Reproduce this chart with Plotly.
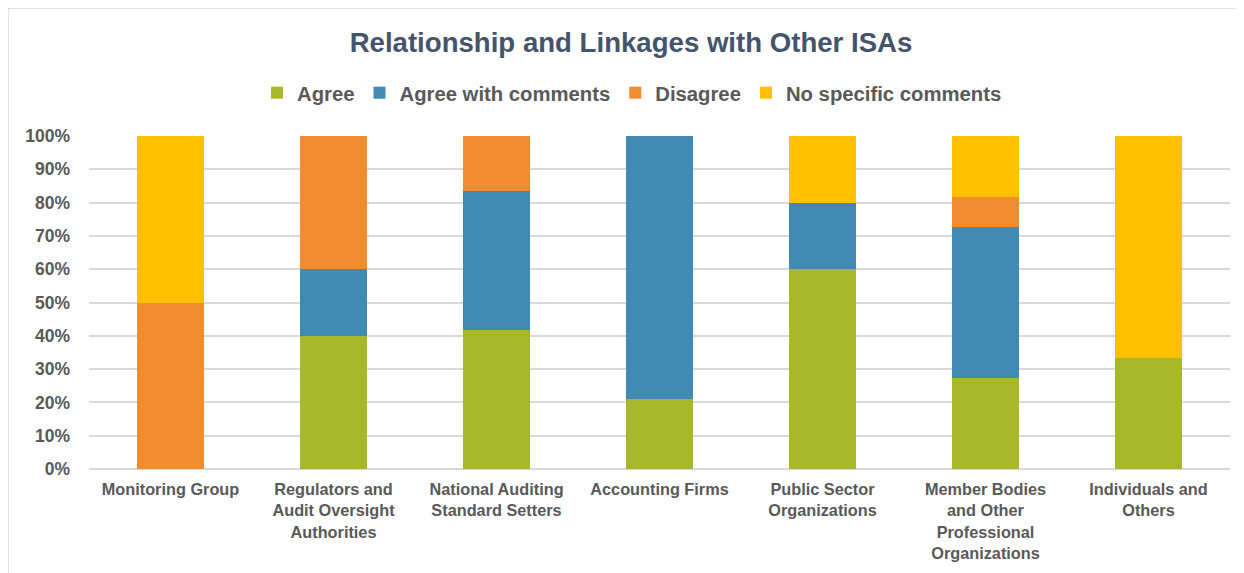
import plotly.graph_objects as go

categories = [
    "Monitoring Group",
    "Regulators and<br>Audit Oversight<br>Authorities",
    "National Auditing<br>Standard Setters",
    "Accounting Firms",
    "Public Sector<br>Organizations",
    "Member Bodies<br>and Other<br>Professional<br>Organizations",
    "Individuals and<br>Others",
]
agree = [0, 40, 41.67, 21.05, 60, 27.27, 33.33]
agree_with_comments = [0, 20, 41.67, 78.95, 20, 45.45, 0]
disagree = [50, 40, 16.66, 0, 0, 9.09, 0]
no_specific_comments = [50, 0, 0, 0, 20, 18.19, 66.67]

series = [
    ("Agree", agree, "#A7B82B"),
    ("Agree with comments", agree_with_comments, "#418AB3"),
    ("Disagree", disagree, "#F18C30"),
    ("No specific comments", no_specific_comments, "#FFC000"),
]

# page body adds an 8px offset; figure coordinates = screen - 8
OFF = 8
W, H = 1244, 573
ML, MT = 89 - OFF, 136 - OFF
MR = W - (1230 - OFF)
MB = H - (469 - OFF)
PW, PH = W - ML - MR, H - MT - MB

fig = go.Figure()
for name, vals, color in series:
    fig.add_trace(go.Bar(
        name=name, x=categories, y=vals,
        marker=dict(color=color, line=dict(width=0)),
    ))

font_family = "Liberation Sans, Arial, sans-serif"
text_color = "#595959"

def px_x(p):
    return (p - OFF - ML) / PW

def px_y(p):
    return (H - MB - (p - OFF)) / PH

fig.update_layout(
    width=W, height=H,
    barmode="stack", bargap=0.595,
    plot_bgcolor="white", paper_bgcolor="white",
    margin=dict(l=ML, r=MR, t=MT, b=MB),
    title=dict(
        text="<b>Relationship and Linkages with Other ISAs</b>",
        x=(631 - OFF) / W, xref="container", xanchor="center",
        y=1 - (42 - OFF) / H, yref="container", yanchor="middle",
        font=dict(family=font_family, size=27.6, color="#44546A"),
    ),
    legend=dict(
        orientation="h", x=(632 - OFF) / W, xref="container", xanchor="center",
        y=1 - (93 - OFF) / H, yref="container", yanchor="middle",
        font=dict(family=font_family, size=20.3, color=text_color, weight="bold"),
        itemwidth=30, traceorder="normal",
    ),
    xaxis=dict(
        tickfont=dict(family=font_family, size=16.3, color=text_color, weight="bold"),
        showgrid=False, showline=False, ticks="", automargin=False,
        ticklabelstandoff=9,
    ),
    yaxis=dict(
        range=[0, 100], dtick=10, ticksuffix="%",
        tickfont=dict(family=font_family, size=17.5, color=text_color, weight="bold"),
        showgrid=True, gridcolor="#D9D9D9", gridwidth=1.5,
        zeroline=True, zerolinecolor="#D9D9D9", zerolinewidth=1.5,
        showline=False, ticks="", automargin=False, ticklabelstandoff=18,
    ),
    shapes=[dict(
        type="rect", xref="paper", yref="paper",
        x0=px_x(8), x1=px_x(W + 40), y0=px_y(H + 40), y1=px_y(8),
        line=dict(color="#D9D9D9", width=1.5), fillcolor="rgba(0,0,0,0)",
        layer="below",
    )],
)

fig.write_html("out.html")
